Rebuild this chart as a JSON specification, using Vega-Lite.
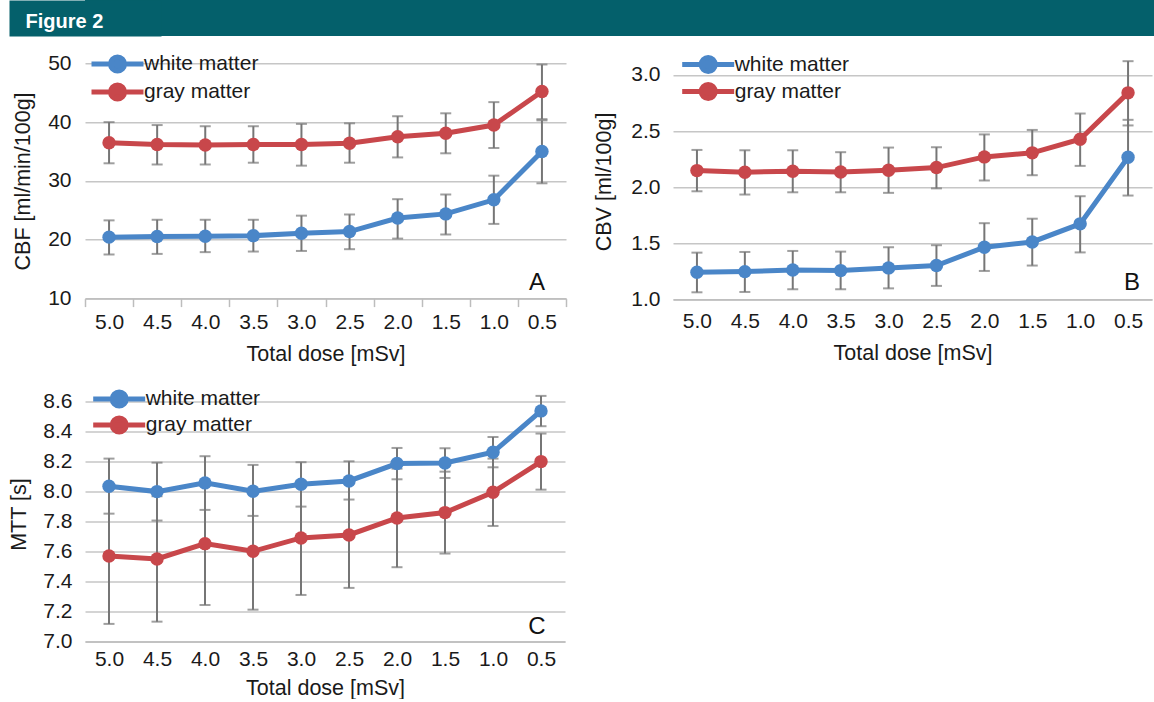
{
  "$schema": "https://vega.github.io/schema/vega-lite/v6.json",
  "padding": {"left": 8, "top": 0, "right": 0, "bottom": 0},
  "background": "white",
  "datasets": {
    "cbf": [
      {"dose": "5.0", "tissue": "white matter", "mean": 20.45, "lo": 17.5, "hi": 23.3},
      {"dose": "4.5", "tissue": "white matter", "mean": 20.56, "lo": 17.6, "hi": 23.4},
      {"dose": "4.0", "tissue": "white matter", "mean": 20.6, "lo": 17.9, "hi": 23.4},
      {"dose": "3.5", "tissue": "white matter", "mean": 20.7, "lo": 18.0, "hi": 23.4},
      {"dose": "3.0", "tissue": "white matter", "mean": 21.1, "lo": 18.1, "hi": 24.1},
      {"dose": "2.5", "tissue": "white matter", "mean": 21.4, "lo": 18.4, "hi": 24.3},
      {"dose": "2.0", "tissue": "white matter", "mean": 23.7, "lo": 20.2, "hi": 26.9},
      {"dose": "1.5", "tissue": "white matter", "mean": 24.4, "lo": 20.9, "hi": 27.7},
      {"dose": "1.0", "tissue": "white matter", "mean": 26.8, "lo": 22.7, "hi": 30.9},
      {"dose": "0.5", "tissue": "white matter", "mean": 35.0, "lo": 29.6, "hi": 40.3},
      {"dose": "5.0", "tissue": "gray matter", "mean": 36.5, "lo": 33.0, "hi": 40.0},
      {"dose": "4.5", "tissue": "gray matter", "mean": 36.2, "lo": 32.8, "hi": 39.5},
      {"dose": "4.0", "tissue": "gray matter", "mean": 36.1, "lo": 32.8, "hi": 39.3},
      {"dose": "3.5", "tissue": "gray matter", "mean": 36.2, "lo": 33.1, "hi": 39.3},
      {"dose": "3.0", "tissue": "gray matter", "mean": 36.2, "lo": 32.6, "hi": 39.7},
      {"dose": "2.5", "tissue": "gray matter", "mean": 36.4, "lo": 33.1, "hi": 39.8},
      {"dose": "2.0", "tissue": "gray matter", "mean": 37.5, "lo": 34.0, "hi": 41.0},
      {"dose": "1.5", "tissue": "gray matter", "mean": 38.1, "lo": 34.7, "hi": 41.5},
      {"dose": "1.0", "tissue": "gray matter", "mean": 39.5, "lo": 35.6, "hi": 43.4},
      {"dose": "0.5", "tissue": "gray matter", "mean": 45.2, "lo": 40.5, "hi": 49.8}
    ],
    "cbv": [
      {"dose": "5.0", "tissue": "white matter", "mean": 1.243, "lo": 1.065, "hi": 1.418},
      {"dose": "4.5", "tissue": "white matter", "mean": 1.249, "lo": 1.068, "hi": 1.424},
      {"dose": "4.0", "tissue": "white matter", "mean": 1.264, "lo": 1.092, "hi": 1.433},
      {"dose": "3.5", "tissue": "white matter", "mean": 1.258, "lo": 1.092, "hi": 1.427},
      {"dose": "3.0", "tissue": "white matter", "mean": 1.282, "lo": 1.1, "hi": 1.466},
      {"dose": "2.5", "tissue": "white matter", "mean": 1.303, "lo": 1.122, "hi": 1.484},
      {"dose": "2.0", "tissue": "white matter", "mean": 1.466, "lo": 1.255, "hi": 1.68},
      {"dose": "1.5", "tissue": "white matter", "mean": 1.513, "lo": 1.303, "hi": 1.72},
      {"dose": "1.0", "tissue": "white matter", "mean": 1.674, "lo": 1.42, "hi": 1.92},
      {"dose": "0.5", "tissue": "white matter", "mean": 2.267, "lo": 1.926, "hi": 2.6},
      {"dose": "5.0", "tissue": "gray matter", "mean": 2.148, "lo": 1.964, "hi": 2.332},
      {"dose": "4.5", "tissue": "gray matter", "mean": 2.134, "lo": 1.935, "hi": 2.329},
      {"dose": "4.0", "tissue": "gray matter", "mean": 2.142, "lo": 1.955, "hi": 2.329},
      {"dose": "3.5", "tissue": "gray matter", "mean": 2.136, "lo": 1.955, "hi": 2.312},
      {"dose": "3.0", "tissue": "gray matter", "mean": 2.151, "lo": 1.95, "hi": 2.353},
      {"dose": "2.5", "tissue": "gray matter", "mean": 2.175, "lo": 1.99, "hi": 2.356},
      {"dose": "2.0", "tissue": "gray matter", "mean": 2.27, "lo": 2.06, "hi": 2.47},
      {"dose": "1.5", "tissue": "gray matter", "mean": 2.306, "lo": 2.107, "hi": 2.51},
      {"dose": "1.0", "tissue": "gray matter", "mean": 2.427, "lo": 2.19, "hi": 2.656},
      {"dose": "0.5", "tissue": "gray matter", "mean": 2.84, "lo": 2.55, "hi": 3.122}
    ],
    "mtt": [
      {"dose": "5.0", "tissue": "white matter", "mean": 8.036, "lo": 7.853, "hi": 8.22},
      {"dose": "4.5", "tissue": "white matter", "mean": 8.0, "lo": 7.807, "hi": 8.193},
      {"dose": "4.0", "tissue": "white matter", "mean": 8.058, "lo": 7.878, "hi": 8.236},
      {"dose": "3.5", "tissue": "white matter", "mean": 8.002, "lo": 7.838, "hi": 8.178},
      {"dose": "3.0", "tissue": "white matter", "mean": 8.049, "lo": 7.9, "hi": 8.196},
      {"dose": "2.5", "tissue": "white matter", "mean": 8.071, "lo": 7.947, "hi": 8.202},
      {"dose": "2.0", "tissue": "white matter", "mean": 8.187, "lo": 8.082, "hi": 8.291},
      {"dose": "1.5", "tissue": "white matter", "mean": 8.191, "lo": 8.091, "hi": 8.289},
      {"dose": "1.0", "tissue": "white matter", "mean": 8.262, "lo": 8.162, "hi": 8.364},
      {"dose": "0.5", "tissue": "white matter", "mean": 8.538, "lo": 8.436, "hi": 8.638},
      {"dose": "5.0", "tissue": "gray matter", "mean": 7.571, "lo": 7.118, "hi": 8.024},
      {"dose": "4.5", "tissue": "gray matter", "mean": 7.551, "lo": 7.133, "hi": 7.969},
      {"dose": "4.0", "tissue": "gray matter", "mean": 7.653, "lo": 7.244, "hi": 8.062},
      {"dose": "3.5", "tissue": "gray matter", "mean": 7.602, "lo": 7.213, "hi": 7.991},
      {"dose": "3.0", "tissue": "gray matter", "mean": 7.691, "lo": 7.311, "hi": 8.071},
      {"dose": "2.5", "tissue": "gray matter", "mean": 7.711, "lo": 7.358, "hi": 8.064},
      {"dose": "2.0", "tissue": "gray matter", "mean": 7.824, "lo": 7.496, "hi": 8.153},
      {"dose": "1.5", "tissue": "gray matter", "mean": 7.86, "lo": 7.587, "hi": 8.133},
      {"dose": "1.0", "tissue": "gray matter", "mean": 7.996, "lo": 7.771, "hi": 8.22},
      {"dose": "0.5", "tissue": "gray matter", "mean": 8.2, "lo": 8.013, "hi": 8.387}
    ],
    "letters": [
      {"panel": "A", "dose": "0.5", "v": 12.7},
      {"panel": "B", "dose": "0.5", "v": 1.145},
      {"panel": "C", "dose": "0.5", "v": 7.095}
    ],
    "header": [{"t": ""}]
  },
  "columns": 1,
  "align": "none",
  "spacing": 13.3,
  "resolve": {
    "scale": {"fill": "independent", "stroke": "independent"},
    "legend": {"fill": "independent", "stroke": "independent"}
  },
  "concat": [
    {
      "width": 1070,
      "height": 36,
      "view": {"fill": "#04606b", "stroke": null},
      "data": {"name": "header"},
      "mark": {"type": "text"},
      "encoding": {
        "text": {"field": "t"},
        "x": {"field": "t", "type": "nominal", "axis": {"orient": "top", "zindex": 3, "title": "Figure 2", "labels": false, "ticks": false, "domain": false, "grid": false, "titleX": -60, "titleY": 27, "titleAlign": "left", "titleAnchor": "start", "titleBaseline": "alphabetic", "titleFontSize": 20, "titleFontWeight": "bold", "titleColor": "#ffffff", "titleFont": "Liberation Sans", "titleAngle": 0}},
        "y": {"field": "t", "type": "nominal", "axis": {"zindex": 0, "title": null, "labels": false, "ticks": false, "grid": false, "domain": true, "domainColor": "#04606b", "domainWidth": 152, "domainCap": "butt"}}
      }
    },
    {
      "spacing": 26,
      "resolve": {
        "scale": {"fill": "independent", "stroke": "independent"},
        "legend": {"fill": "independent", "stroke": "independent"}
      },
      "hconcat": [
        {
          "width": 481,
          "height": 235.3,
          "data": {"name": "cbf"},
          "layer": [
            {
              "mark": {"type": "errorbar", "ticks": {"size": 11, "thickness": 2, "color": "#767676"}, "rule": {"strokeWidth": 2, "color": "#767676"}},
              "encoding": {
                "x": {"field": "dose", "type": "ordinal", "sort": ["5.0", "4.5", "4.0", "3.5", "3.0", "2.5", "2.0", "1.5", "1.0", "0.5"], "scale": {"type": "band", "paddingInner": 0, "paddingOuter": 0}, "axis": {"title": "Total dose [mSv]", "ticks": true, "tickSize": 8, "labelPadding": 4.5, "titlePadding": 11}},
                "y": {"field": "lo", "type": "quantitative", "title": "CBF [ml/min/100g]", "scale": {"domain": [10, 50], "nice": false, "zero": false}},
                "y2": {"field": "hi"},
                "detail": {"field": "tissue"}
              }
            },
            {
              "mark": {"type": "line", "strokeWidth": 5},
              "encoding": {
                "x": {"field": "dose", "type": "ordinal", "sort": ["5.0", "4.5", "4.0", "3.5", "3.0", "2.5", "2.0", "1.5", "1.0", "0.5"]},
                "y": {"field": "mean", "type": "quantitative", "title": "CBF [ml/min/100g]", "scale": {"domain": [10, 50], "nice": false, "zero": false}, "axis": {"values": [10, 20, 30, 40, 50], "tickCount": 5, "labelPadding": 14, "titlePadding": 13.6}},
                "stroke": {"field": "tissue", "type": "nominal", "scale": {"domain": ["white matter", "gray matter"], "range": ["#4a86c8", "#c8474b"]}, "legend": {"title": null, "orient": "none", "legendX": 4, "legendY": -13.4, "symbolType": "M-1,0H1M-0.27,0A0.27,0.27,0,1,1,0.27,0A0.27,0.27,0,1,1,-0.27,0Z", "symbolSize": 2704, "symbolStrokeWidth": 5, "clipHeight": 28, "labelFontSize": 21, "labelFont": "Liberation Sans", "labelColor": "#1a1a1a", "labelOffset": -2, "padding": 0, "rowPadding": 0, "symbolOffset": 0, "labelLimit": 300}}
              }
            },
            {
              "mark": {"type": "circle", "size": 180, "opacity": 1},
              "encoding": {
                "x": {"field": "dose", "type": "ordinal", "sort": ["5.0", "4.5", "4.0", "3.5", "3.0", "2.5", "2.0", "1.5", "1.0", "0.5"]},
                "y": {"field": "mean", "type": "quantitative", "title": "CBF [ml/min/100g]"},
                "fill": {"field": "tissue", "type": "nominal", "scale": {"domain": ["white matter", "gray matter"], "range": ["#4a86c8", "#c8474b"]}, "legend": {"title": null, "orient": "none", "legendX": 4, "legendY": -13.4, "symbolType": "M-1,0H1M-0.27,0A0.27,0.27,0,1,1,0.27,0A0.27,0.27,0,1,1,-0.27,0Z", "symbolSize": 2704, "symbolStrokeWidth": 5, "clipHeight": 28, "labelFontSize": 21, "labelFont": "Liberation Sans", "labelColor": "#1a1a1a", "labelOffset": -2, "padding": 0, "rowPadding": 0, "symbolOffset": 0, "labelLimit": 300}}
              }
            },
            {
              "data": {"name": "letters"},
              "transform": [{"filter": "datum.panel === 'A'"}],
              "mark": {"type": "text", "fontSize": 24, "font": "Liberation Sans", "color": "#111111", "baseline": "middle", "align": "center", "dx": -5},
              "encoding": {
                "x": {"field": "dose", "type": "ordinal", "sort": ["5.0", "4.5", "4.0", "3.5", "3.0", "2.5", "2.0", "1.5", "1.0", "0.5"]},
                "y": {"field": "v", "type": "quantitative", "title": "CBF [ml/min/100g]"},
                "text": {"field": "panel"}
              }
            }
          ]
        },
        {
          "width": 479,
          "height": 236.3,
          "data": {"name": "cbv"},
          "layer": [
            {
              "mark": {"type": "errorbar", "clip": false, "ticks": {"size": 11, "thickness": 2, "color": "#767676"}, "rule": {"strokeWidth": 2, "color": "#767676"}},
              "encoding": {
                "x": {"field": "dose", "type": "ordinal", "sort": ["5.0", "4.5", "4.0", "3.5", "3.0", "2.5", "2.0", "1.5", "1.0", "0.5"], "scale": {"type": "band", "paddingInner": 0, "paddingOuter": 0}, "axis": {"title": "Total dose [mSv]", "ticks": false, "labelPadding": 11, "titlePadding": 10.6}},
                "y": {"field": "lo", "type": "quantitative", "title": "CBV [ml/100g]", "scale": {"domain": [1, 3.103], "nice": false, "zero": false}},
                "y2": {"field": "hi"},
                "detail": {"field": "tissue"}
              }
            },
            {
              "mark": {"type": "line", "strokeWidth": 5},
              "encoding": {
                "x": {"field": "dose", "type": "ordinal", "sort": ["5.0", "4.5", "4.0", "3.5", "3.0", "2.5", "2.0", "1.5", "1.0", "0.5"]},
                "y": {"field": "mean", "type": "quantitative", "title": "CBV [ml/100g]", "scale": {"domain": [1, 3.103], "nice": false, "zero": false}, "axis": {"values": [1, 1.5, 2, 2.5, 3], "format": ".1f", "labelPadding": 13, "titlePadding": 15}},
                "stroke": {"field": "tissue", "type": "nominal", "scale": {"domain": ["white matter", "gray matter"], "range": ["#4a86c8", "#c8474b"]}, "legend": {"title": null, "orient": "none", "legendX": 6.7, "legendY": -12.2, "symbolType": "M-1,0H1M-0.27,0A0.27,0.27,0,1,1,0.27,0A0.27,0.27,0,1,1,-0.27,0Z", "symbolSize": 2704, "symbolStrokeWidth": 5, "clipHeight": 27, "labelFontSize": 21, "labelFont": "Liberation Sans", "labelColor": "#1a1a1a", "labelOffset": -2, "padding": 0, "rowPadding": 0, "symbolOffset": 0, "labelLimit": 300}}
              }
            },
            {
              "mark": {"type": "circle", "size": 180, "opacity": 1},
              "encoding": {
                "x": {"field": "dose", "type": "ordinal", "sort": ["5.0", "4.5", "4.0", "3.5", "3.0", "2.5", "2.0", "1.5", "1.0", "0.5"]},
                "y": {"field": "mean", "type": "quantitative", "title": "CBV [ml/100g]"},
                "fill": {"field": "tissue", "type": "nominal", "scale": {"domain": ["white matter", "gray matter"], "range": ["#4a86c8", "#c8474b"]}, "legend": {"title": null, "orient": "none", "legendX": 6.7, "legendY": -12.2, "symbolType": "M-1,0H1M-0.27,0A0.27,0.27,0,1,1,0.27,0A0.27,0.27,0,1,1,-0.27,0Z", "symbolSize": 2704, "symbolStrokeWidth": 5, "clipHeight": 27, "labelFontSize": 21, "labelFont": "Liberation Sans", "labelColor": "#1a1a1a", "labelOffset": -2, "padding": 0, "rowPadding": 0, "symbolOffset": 0, "labelLimit": 300}}
              }
            },
            {
              "data": {"name": "letters"},
              "transform": [{"filter": "datum.panel === 'B'"}],
              "mark": {"type": "text", "fontSize": 24, "font": "Liberation Sans", "color": "#111111", "baseline": "middle", "align": "center", "dx": 4},
              "encoding": {
                "x": {"field": "dose", "type": "ordinal", "sort": ["5.0", "4.5", "4.0", "3.5", "3.0", "2.5", "2.0", "1.5", "1.0", "0.5"]},
                "y": {"field": "v", "type": "quantitative", "title": "CBV [ml/100g]"},
                "text": {"field": "panel"}
              }
            }
          ]
        }
      ]
    },
    {
      "width": 480,
      "height": 255,
      "data": {"name": "mtt"},
      "layer": [
        {
          "mark": {"type": "errorbar", "ticks": {"size": 11, "thickness": 2, "color": "#767676"}, "rule": {"strokeWidth": 2, "color": "#767676"}},
          "encoding": {
            "x": {"field": "dose", "type": "ordinal", "sort": ["5.0", "4.5", "4.0", "3.5", "3.0", "2.5", "2.0", "1.5", "1.0", "0.5"], "scale": {"type": "band", "paddingInner": 0, "paddingOuter": 0}, "axis": {"title": "Total dose [mSv]", "ticks": false, "labelPadding": 6.6, "titlePadding": 8}},
            "y": {"field": "lo", "type": "quantitative", "title": "MTT [s]", "scale": {"domain": [7, 8.7], "nice": false, "zero": false}, "axis": {"values": [7, 7.2, 7.4, 7.6, 7.8, 8, 8.2, 8.4, 8.6], "tickCount": 9, "format": ".1f", "labelOverlap": false, "labelPadding": 13, "titlePadding": 12.3}},
            "y2": {"field": "hi"},
            "detail": {"field": "tissue"}
          }
        },
        {
          "mark": {"type": "line", "strokeWidth": 5},
          "encoding": {
            "x": {"field": "dose", "type": "ordinal", "sort": ["5.0", "4.5", "4.0", "3.5", "3.0", "2.5", "2.0", "1.5", "1.0", "0.5"]},
            "y": {"field": "mean", "type": "quantitative", "title": "MTT [s]", "scale": {"domain": [7, 8.7], "nice": false, "zero": false}, "axis": {"values": [7, 7.2, 7.4, 7.6, 7.8, 8, 8.2, 8.4, 8.6], "tickCount": 9, "format": ".1f", "labelOverlap": false, "labelPadding": 13, "titlePadding": 12.3}},
            "stroke": {"field": "tissue", "type": "nominal", "scale": {"domain": ["white matter", "gray matter"], "range": ["#4a86c8", "#c8474b"]}, "legend": {"title": null, "orient": "none", "legendX": -1.3, "legendY": -7.7, "symbolType": "M-1,0H1M-0.27,0A0.27,0.27,0,1,1,0.27,0A0.27,0.27,0,1,1,-0.27,0Z", "symbolSize": 2704, "symbolStrokeWidth": 5, "clipHeight": 26, "labelFontSize": 21, "labelFont": "Liberation Sans", "labelColor": "#1a1a1a", "labelOffset": -2, "padding": 7, "rowPadding": 0, "symbolOffset": 0, "labelLimit": 300}}
          }
        },
        {
          "mark": {"type": "circle", "size": 180, "opacity": 1},
          "encoding": {
            "x": {"field": "dose", "type": "ordinal", "sort": ["5.0", "4.5", "4.0", "3.5", "3.0", "2.5", "2.0", "1.5", "1.0", "0.5"]},
            "y": {"field": "mean", "type": "quantitative", "title": "MTT [s]"},
            "fill": {"field": "tissue", "type": "nominal", "scale": {"domain": ["white matter", "gray matter"], "range": ["#4a86c8", "#c8474b"]}, "legend": {"title": null, "orient": "none", "legendX": -1.3, "legendY": -7.7, "symbolType": "M-1,0H1M-0.27,0A0.27,0.27,0,1,1,0.27,0A0.27,0.27,0,1,1,-0.27,0Z", "symbolSize": 2704, "symbolStrokeWidth": 5, "clipHeight": 26, "labelFontSize": 21, "labelFont": "Liberation Sans", "labelColor": "#1a1a1a", "labelOffset": -2, "padding": 7, "rowPadding": 0, "symbolOffset": 0, "labelLimit": 300}}
          }
        },
        {
          "data": {"name": "letters"},
          "transform": [{"filter": "datum.panel === 'C'"}],
          "mark": {"type": "text", "fontSize": 24, "font": "Liberation Sans", "color": "#111111", "baseline": "middle", "align": "center", "dx": -4},
          "encoding": {
            "x": {"field": "dose", "type": "ordinal", "sort": ["5.0", "4.5", "4.0", "3.5", "3.0", "2.5", "2.0", "1.5", "1.0", "0.5"]},
            "y": {"field": "v", "type": "quantitative", "title": "MTT [s]"},
            "text": {"field": "panel"}
          }
        }
      ]
    }
  ],
  "config": {
    "view": {"stroke": null},
    "font": "Liberation Sans",
    "axis": {
      "labelFontSize": 21,
      "titleFontSize": 21.5,
      "labelColor": "#1a1a1a",
      "titleColor": "#1a1a1a",
      "titleFontWeight": "normal",
      "labelFont": "Liberation Sans",
      "titleFont": "Liberation Sans",
      "gridColor": "#c6c6c6",
      "gridWidth": 1.5,
      "domainColor": "#bdbdbd",
      "domainWidth": 1.5,
      "tickColor": "#bdbdbd",
      "tickWidth": 1.5
    },
    "axisX": {"grid": false, "labelAngle": 0, "tickBand": "extent"},
    "axisY": {"grid": true, "domain": false, "ticks": false}
  }
}
